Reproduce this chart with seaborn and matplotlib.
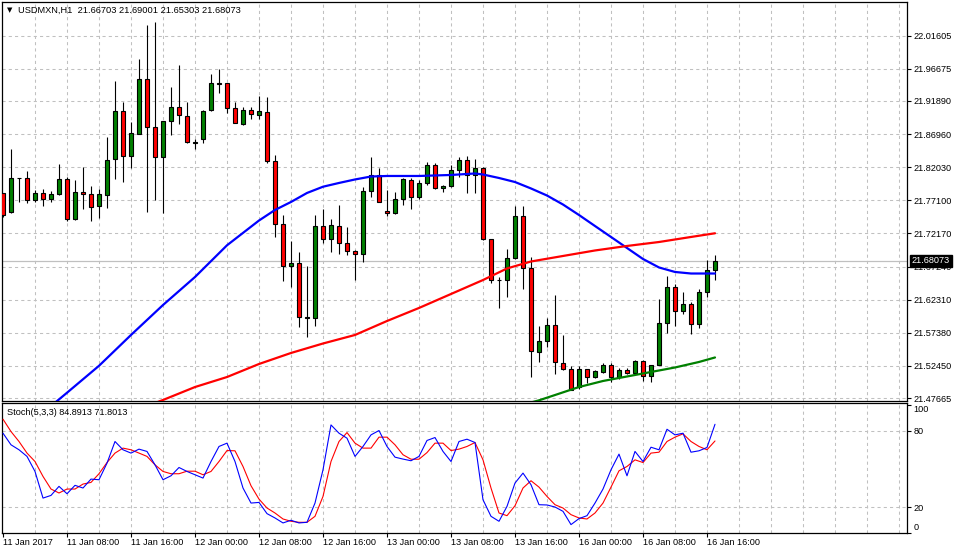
import numpy as np
import matplotlib
matplotlib.use('Agg')
import matplotlib.pyplot as plt
import matplotlib.transforms as mtransforms
import seaborn as sns

sns.set_style('white')
plt.rcParams['font.family'] = ['Liberation Sans', 'DejaVu Sans']

# ---- USDMXN H1 candles (11 Jan 2017 00:00 .. 16 Jan 17:00) ----
opens = [
    21.7814, 21.7531, 21.8035, 21.8038, 21.7710, 21.7814, 21.7725, 21.7799, 21.8023, 21.7432,
    21.7829, 21.7799, 21.7621, 21.7784, 21.8320, 21.9035, 21.8365, 21.8693, 21.9511, 21.8797,
    21.8350, 21.8886, 21.9095, 21.8961, 21.8569, 21.8618, 21.9050, 21.9449, 21.9452, 21.9080,
    21.8850, 21.9050, 21.8975, 21.9020, 21.8295, 21.7357, 21.6736, 21.6772, 21.5962, 21.5953,
    21.7327, 21.7129, 21.7327, 21.7070, 21.6951, 21.6906, 21.7853, 21.8087, 21.7551, 21.7516,
    21.7725, 21.8008, 21.7755, 21.7972, 21.8236, 21.7889, 21.7918, 21.8157, 21.8305, 21.8087,
    21.8186, 21.7138, 21.6520, 21.6523, 21.6846, 21.7472, 21.6698, 21.5456, 21.5611, 21.5849,
    21.5283, 21.5194, 21.4926, 21.5194, 21.5084, 21.5158, 21.5253, 21.5075, 21.5179, 21.5134,
    21.5313, 21.5099, 21.5262, 21.5879, 21.6415, 21.6057, 21.6162, 21.5864, 21.6340, 21.66703,
]
highs = [
    21.7819, 21.8474, 21.8046, 21.8146, 21.7863, 21.7878, 21.7844, 21.8250, 21.8052, 21.8012,
    21.8201, 21.7923, 21.7878, 21.8652, 21.9486, 21.9169, 21.8871, 21.9814, 22.0320, 22.0369,
    21.8891, 21.9397, 21.9720, 21.9178, 21.8618, 21.9054, 21.9590, 21.9665, 21.9452, 21.9178,
    21.9095, 21.9095, 21.9258, 21.9248, 21.8384, 21.7491, 21.7109, 21.6945, 21.6732, 21.7491,
    21.7580, 21.7432, 21.7640, 21.7317, 21.6970, 21.7908, 21.8350, 21.8186, 21.7863, 21.7838,
    21.8046, 21.8046, 21.8012, 21.8276, 21.8261, 21.7938, 21.8231, 21.8359, 21.8370, 21.8325,
    21.8201, 21.7140, 21.6573, 21.6989, 21.7625, 21.7625, 21.6861, 21.5839, 21.5953, 21.6300,
    21.5700, 21.5239, 21.5239, 21.5196, 21.5179, 21.5283, 21.5283, 21.5209, 21.5209, 21.5328,
    21.5328, 21.5258, 21.6241, 21.6583, 21.6459, 21.6340, 21.6196, 21.6385, 21.6817, 21.69001,
]
lows = [
    21.7454, 21.7528, 21.7680, 21.7665, 21.7680, 21.7630, 21.7680, 21.7784, 21.7397, 21.7417,
    21.7576, 21.7397, 21.7442, 21.7591, 21.8023, 21.7978, 21.8186, 21.8693, 21.7531, 21.7710,
    21.7516, 21.8678, 21.8846, 21.8568, 21.8478, 21.8568, 21.9039, 21.9303, 21.9005, 21.8856,
    21.8836, 21.8925, 21.8925, 21.8270, 21.7159, 21.6513, 21.6424, 21.5828, 21.5679, 21.5839,
    21.7070, 21.6936, 21.6910, 21.6896, 21.6523, 21.6796, 21.7764, 21.7685, 21.7481, 21.7513,
    21.7636, 21.7585, 21.7725, 21.7938, 21.7885, 21.7838, 21.7915, 21.8052, 21.7823, 21.7823,
    21.7125, 21.6483, 21.6102, 21.6275, 21.6832, 21.6394, 21.5084, 21.5307, 21.5530, 21.5119,
    21.5179, 21.4882, 21.4905, 21.4994, 21.5060, 21.5143, 21.5009, 21.5054, 21.5124, 21.5124,
    21.5024, 21.5009, 21.5259, 21.5739, 21.5839, 21.6013, 21.5715, 21.5804, 21.6275, 21.65303,
]
closes = [
    21.7484, 21.8038, 21.8042, 21.7710, 21.7814, 21.7725, 21.7799, 21.8023, 21.7432, 21.7829,
    21.7799, 21.7606, 21.7799, 21.8305, 21.9035, 21.8365, 21.8707, 21.9511, 21.8797, 21.8350,
    21.8886, 21.9095, 21.8975, 21.8582, 21.8571, 21.9039, 21.9452, 21.9444, 21.9080, 21.8865,
    21.9050, 21.8990, 21.9035, 21.8300, 21.7357, 21.6736, 21.6772, 21.5968, 21.5966, 21.7327,
    21.7129, 21.7338, 21.7070, 21.6951, 21.6906, 21.7853, 21.8087, 21.7689, 21.7516, 21.7725,
    21.8027, 21.7755, 21.7968, 21.8236, 21.7889, 21.7918, 21.8157, 21.8305, 21.8087, 21.8186,
    21.7129, 21.6523, 21.6523, 21.6846, 21.7472, 21.6698, 21.5466, 21.5615, 21.5849, 21.5298,
    21.5194, 21.4886, 21.5194, 21.5075, 21.5164, 21.5253, 21.5075, 21.5179, 21.5134, 21.5313,
    21.5099, 21.5253, 21.5879, 21.6415, 21.6057, 21.6162, 21.5864, 21.6340, 21.6668, 21.68073,
]

# moving averages, read at bar numbers
ma_blue_bars = [6, 8, 12, 16, 20, 24, 28, 32, 34, 36, 38, 40, 42, 44, 46, 48, 52, 56, 59, 60,
                62, 64, 66, 68, 70, 72, 74, 76, 78, 80, 82, 84, 86, 89]
ma_blue = [21.4647, 21.4845, 21.5246, 21.5705, 21.6151, 21.6568, 21.7040, 21.7409, 21.7566, 21.7685,
           21.7819, 21.7912, 21.7968, 21.8020, 21.8064, 21.8072, 21.8072, 21.8087, 21.8109, 21.8094,
           21.8042, 21.7982, 21.7886, 21.7781, 21.7647, 21.7491, 21.7327, 21.7164, 21.7000, 21.6836,
           21.6710, 21.6643, 21.6620, 21.6620]
ma_red_bars = [19, 20, 24, 28, 32, 36, 40, 44, 48, 52, 56, 60, 63, 66, 70, 74, 78, 82, 86, 89]
ma_red = [21.4692, 21.4737, 21.4930, 21.5079, 21.5273, 21.5437, 21.5578, 21.5705, 21.5913, 21.6107,
          21.6315, 21.6523, 21.6695, 21.6799, 21.6881, 21.6963, 21.7030, 21.7089, 21.7164, 21.7219]
ma_green_bars = [66, 67, 69, 72, 75, 78, 81, 84, 87, 89]
ma_green = [21.4700, 21.4732, 21.4811, 21.4930, 21.5020, 21.5087, 21.5154, 21.5221, 21.5303, 21.5370]

# Stochastic(5,3,3)
stoch_k = [77.9, 68.8, 64.9, 59.7, 47.9, 27.0, 29.1, 36.2, 30.4, 37.0,
           34.9, 41.9, 41.4, 54.4, 71.4, 64.9, 62.3, 65.4, 63.6, 53.1,
           41.4, 44.5, 51.0, 47.9, 45.3, 42.7, 55.7, 67.5, 70.1, 55.7,
           34.9, 23.1, 23.6, 14.8, 11.4, 7.5, 9.6, 7.5, 8.0, 23.1,
           49.2, 84.4, 77.9, 74.0, 59.7, 67.5, 76.6, 80.0, 67.5, 59.1,
           57.6, 56.3, 59.7, 72.2, 74.5, 63.6, 55.7, 71.4, 73.2, 70.6,
           25.7, 12.7, 8.8, 20.5, 38.8, 46.6, 37.5, 21.8, 21.6, 20.0,
           16.6, 6.2, 10.9, 13.2, 23.1, 34.1, 49.2, 61.5, 44.5, 63.6,
           55.7, 66.9, 64.9, 81.0, 76.6, 77.9, 63.0, 64.1, 66.7, 84.8913]
stoch_d = [88.9, 79.2, 71.4, 62.3, 55.7, 44.0, 34.1, 31.0, 34.1, 34.1,
           38.0, 39.3, 46.1, 54.9, 62.3, 66.2, 64.9, 62.3, 59.7, 53.1,
           47.9, 46.1, 46.1, 48.1, 48.1, 45.3, 47.9, 55.7, 64.3, 64.1,
           51.8, 36.7, 26.2, 19.2, 15.3, 10.6, 8.8, 8.0, 8.0, 12.7,
           28.3, 55.7, 71.4, 78.4, 70.1, 66.2, 66.2, 74.8, 74.8, 68.8,
           61.0, 57.5, 57.5, 62.7, 70.1, 70.1, 64.3, 65.4, 67.5, 70.6,
           57.0, 34.9, 15.3, 13.2, 21.0, 34.9, 40.6, 35.6, 28.3, 21.8,
           19.2, 14.0, 11.4, 10.6, 15.3, 23.1, 35.6, 48.4, 51.8, 57.0,
           54.9, 62.3, 63.0, 71.4, 74.8, 77.4, 71.4, 67.5, 64.9, 71.8013]

price_ticks = [22.01605, 21.96675, 21.91890, 21.86960, 21.82030, 21.77100,
               21.72170, 21.67240, 21.62310, 21.57380, 21.52450, 21.47665]
time_labels = ['11 Jan 2017', '11 Jan 08:00', '11 Jan 16:00', '12 Jan 00:00',
               '12 Jan 08:00', '12 Jan 16:00', '13 Jan 00:00', '13 Jan 08:00',
               '13 Jan 16:00', '16 Jan 00:00', '16 Jan 08:00', '16 Jan 16:00']
time_label_bars = [0, 8, 16, 24, 32, 40, 48, 56, 64, 72, 80, 88]
title_text = 'USDMXN,H1  21.66703 21.69001 21.65303 21.68073'
stoch_text = 'Stoch(5,3,3) 84.8913 71.8013'
last_price = 21.68073

# ---- figure ----
W, H = 956, 554
fig = plt.figure(figsize=(W / 100, H / 100), dpi=100)
fig.patch.set_facecolor('white')
ax = fig.add_axes([2 / W, 1 - 401 / H, 905 / W, 399 / H])
ax2 = fig.add_axes([2 / W, 1 - 532.5 / H, 905 / W, 129.5 / H])

GRID = '#C0C0C0'
dash = (0, (3, 3))
fs = 6.6
xmin, xmax = -0.125, 113

for a in (ax, ax2):
    a.set_facecolor('white')
    for s in a.spines.values():
        s.set_color('black')
        s.set_linewidth(0.9)
    for gx in range(4, 113, 4):
        a.axvline(gx, color=GRID, linestyle=dash, linewidth=0.75, zorder=0)
    a.set_xlim(xmin, xmax)

# main price panel
o = np.array(opens); c = np.array(closes); hi = np.array(highs); lo = np.array(lows)
idx = np.arange(len(o))
up = c >= o
body_bot = np.minimum(o, c)
body_h = np.maximum(np.abs(c - o), 0.00004)

for p in price_ticks:
    ax.axhline(p, color=GRID, linestyle=dash, linewidth=0.75, zorder=0)
ax.axhline(last_price, color=GRID, linewidth=0.9, zorder=1)

ax.vlines(idx, lo, hi, color='black', linewidth=0.8, zorder=3)
ax.bar(idx[up], body_h[up], bottom=body_bot[up], width=0.6, color='#008000',
       edgecolor='black', linewidth=0.8, zorder=4)
ax.bar(idx[~up], body_h[~up], bottom=body_bot[~up], width=0.6, color='#FF0000',
       edgecolor='black', linewidth=0.8, zorder=4)

sns.lineplot(x=ma_blue_bars, y=ma_blue, ax=ax, color='#0000FF', linewidth=1.6, zorder=5)
sns.lineplot(x=ma_red_bars, y=ma_red, ax=ax, color='#FF0000', linewidth=1.6, zorder=5)
sns.lineplot(x=ma_green_bars, y=ma_green, ax=ax, color='#008000', linewidth=1.6, zorder=5)

ax.set_xlim(xmin, xmax)
ax.set_ylim(21.4722, 22.0662)
ax.set_xlabel('')
ax.set_ylabel('')
ax.set_yticks(price_ticks)
ax.set_yticklabels([f'{p:.5f}' for p in price_ticks])
ax.tick_params(axis='y', left=False, right=True, labelleft=False, labelright=True,
               direction='out', length=3, width=0.8, labelsize=fs, pad=1.8, colors='black')
ax.tick_params(axis='x', bottom=False, labelbottom=False)

trans = mtransforms.blended_transform_factory(ax.transAxes, ax.transData)
ax.text(1.0055, last_price, f'{last_price:.5f}', transform=trans, color='white',
        fontsize=fs, ha='left', va='center', zorder=10, clip_on=False,
        bbox=dict(facecolor='black', edgecolor='black', pad=1.3))

fig.text(9.5 / W, 1 - 10 / H, '\u25bc', fontsize=5, ha='center', va='center',
         family='DejaVu Sans', color='black')
fig.text(18 / W, 1 - 10 / H, title_text, fontsize=6.7, ha='left', va='center', color='black')

# stochastic panel
for lv in (20, 80):
    ax2.axhline(lv, color=GRID, linestyle=dash, linewidth=0.75, zorder=0)
sns.lineplot(x=idx, y=stoch_k, ax=ax2, color='#0000FF', linewidth=0.8, zorder=4)
sns.lineplot(x=idx, y=stoch_d, ax=ax2, color='#FF0000', linewidth=0.8, zorder=3)
ax2.set_xlim(xmin, xmax)
ax2.set_ylim(0.3, 101.6)
ax2.set_xlabel('')
ax2.set_ylabel('')
ax2.set_yticks([0, 20, 80, 100])
ax2.set_yticklabels(['0', '20', '80', '100'])
ax2.tick_params(axis='y', left=False, right=True, labelleft=False, labelright=True,
                direction='out', length=3, width=0.8, labelsize=fs, pad=1.8, colors='black')
for lbl in ax2.get_yticklabels():
    if lbl.get_text() == '100':
        lbl.set_va('top')
    elif lbl.get_text() == '0':
        lbl.set_va('bottom')
ax2.set_xticks(time_label_bars)
ax2.set_xticklabels(time_labels)
ax2.tick_params(axis='x', bottom=True, direction='out', length=3, width=0.8,
                labelsize=fs, pad=1.2, colors='black')
for lbl in ax2.get_xticklabels():
    lbl.set_ha('left')
ax2.text(5 / 905, 0.923, stoch_text, transform=ax2.transAxes, fontsize=fs,
         ha='left', va='center', color='black')

fig.savefig('out.png', dpi=100, facecolor='white')
